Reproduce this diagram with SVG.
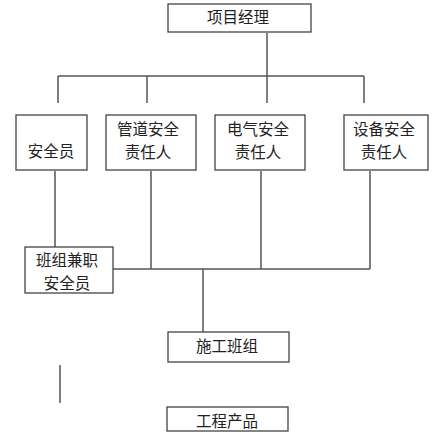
<svg xmlns="http://www.w3.org/2000/svg" width="444" height="441" viewBox="0 0 444 441">
<style>
.box{fill:#fff;stroke:#444;stroke-width:1.3}
.t{font-family:"Liberation Serif","Noto Sans CJK SC",serif;font-size:15.5px;fill:#222;text-anchor:middle;dominant-baseline:central}
.c{stroke:#555;stroke-width:1.5;fill:none}
</style>
<rect width="444" height="441" fill="#fff"/>
<g id="connectors">
<path class="c" d="M267 33V103M58 76H364M58 76V103M147 76V103M364 76V103"/>
<path class="c" d="M55 171V248M151 171V269M261 171V269M370 171V269M113 269H370M203 269V332"/>
<path class="c" d="M60 365V403" stroke="#111"/>
</g>
<g id="n1"><rect class="box" x="168" y="4" width="143" height="28"/><text class="t" x="238" y="17">项目经理</text></g>
<g id="n2"><rect class="box" x="16" y="115" width="71" height="55"/><text class="t" x="51" y="151">安全员</text></g>
<g id="n3"><rect class="box" x="106" y="115" width="90" height="55"/><text class="t" x="148" y="129">管道安全</text><text class="t" x="148" y="152">责任人</text></g>
<g id="n4"><rect class="box" x="215" y="115" width="90" height="55"/><text class="t" x="258" y="129">电气安全</text><text class="t" x="258" y="152">责任人</text></g>
<g id="n5"><rect class="box" x="344" y="115" width="84" height="55"/><text class="t" x="384" y="129">设备安全</text><text class="t" x="384" y="152">责任人</text></g>
<g id="n6"><rect class="box" x="25" y="247" width="88" height="46"/><text class="t" x="67" y="260">班组兼职</text><text class="t" x="67" y="283">安全员</text></g>
<g id="n7"><rect class="box" x="168" y="332" width="121" height="30" stroke-width="1.8" stroke="#222"/><text class="t" x="227" y="346">施工班组</text></g>
<g id="n8"><rect class="box" x="167" y="407" width="121" height="24"/><text class="t" x="227" y="421">工程产品</text></g>
</svg>
